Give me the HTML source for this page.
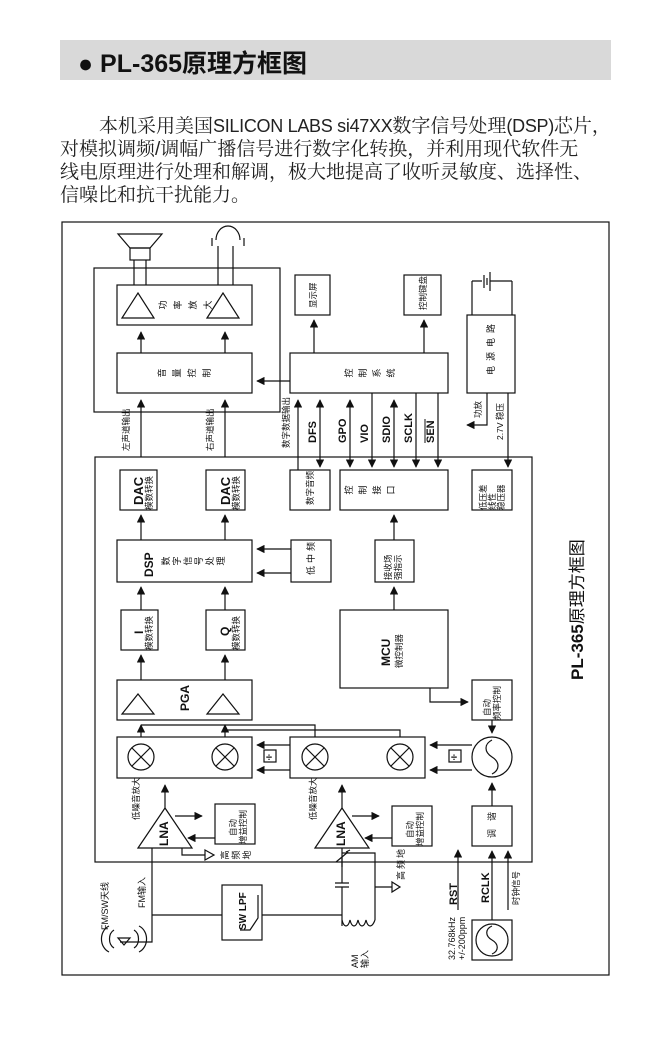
<!DOCTYPE html>
<html><head><meta charset="utf-8"><style>
body{margin:0;background:#fff;width:669px;height:1063px;overflow:hidden;font-family:"Liberation Sans","Noto Sans CJK SC",sans-serif}
.hdr{position:absolute;left:60px;top:40px;width:551px;height:40px;background:#d9d9d9}
.hdr span{position:absolute;left:18px;top:4px;font-size:25px;font-weight:bold;color:#111}
.p{position:absolute;left:60px;font-size:19px;line-height:23px;color:#222;white-space:nowrap;font-family:"Liberation Sans","Noto Serif CJK SC",serif}
.l{font-size:18px;letter-spacing:-0.3px}
svg{position:absolute;left:0;top:0}
svg text{font-family:"Liberation Sans","Noto Sans CJK SC",sans-serif;fill:#111}
.c{text-anchor:middle;dominant-baseline:central;font-size:9px}
</style></head><body>
<div class="hdr"><span>● PL-365原理方框图</span></div>
<div class="p" style="top:115px;left:99px">本机采用美国<span class="l">SILICON LABS si47XX</span>数字信号处理<span class="l">(DSP)</span>芯片，</div>
<div class="p" style="top:138px">对模拟调频/调幅广播信号进行数字化转换，并利用现代软件无</div>
<div class="p" style="top:161px">线电原理进行处理和解调，极大地提高了收听灵敏度、选择性、</div>
<div class="p" style="top:184px">信噪比和抗干扰能力。</div>
<svg width="669" height="1063" viewBox="0 0 669 1063">
<defs><marker id="a" viewBox="0 0 10 10" refX="9" refY="5" markerWidth="7" markerHeight="7" orient="auto-start-reverse"><path d="M0,0L10,5L0,10z" fill="#111"/></marker></defs>
<g fill="none" stroke="#111" stroke-width="1.2">
<rect x="62" y="222" width="547" height="753"/>
<rect x="95" y="457" width="437" height="405"/>
<rect x="94" y="268" width="186" height="144"/>
<path d="M118,234H162L150,248H130Z"/><rect x="130" y="248" width="20" height="12"/>
<path d="M134,260V285M146,260V285"/>
<path d="M216,240a12,14 0 0 1 24,0M212,238v8M244,238v8"/><path d="M218,246V285M233,246V285"/>
<rect x="117" y="285" width="135" height="40"/>
<path d="M122,318L138,293L154,318Z M207,318L223,293L239,318Z"/>
<rect x="117" y="353" width="135" height="40"/>
<path d="M141,353V332" marker-end="url(#a)"/><path d="M225,353V332" marker-end="url(#a)"/>
<rect x="290" y="353" width="158" height="40"/>
<path d="M290,381H257" marker-end="url(#a)"/>
<rect x="295" y="275" width="35" height="40"/><rect x="404" y="275" width="37" height="40"/>
<path d="M314,353V320" marker-end="url(#a)"/><path d="M424,353V320" marker-end="url(#a)"/>
<path d="M472,281H482M490,281H512M472,281V315M512,281V315M484,275V288M487,278V285M490,272V291"/>
<rect x="467" y="315" width="48" height="78"/>
<path d="M487,393V425H467" marker-end="url(#a)"/>
<path d="M508,393V467" marker-end="url(#a)"/>
<path d="M141,457V400" marker-end="url(#a)"/><path d="M225,457V400" marker-end="url(#a)"/>
<path d="M298,470V400" marker-end="url(#a)"/>
<path d="M320,400V467" marker-start="url(#a)" marker-end="url(#a)"/>
<path d="M350,400V467" marker-start="url(#a)" marker-end="url(#a)"/>
<path d="M372,393V467" marker-end="url(#a)"/>
<path d="M394,400V467" marker-start="url(#a)" marker-end="url(#a)"/>
<path d="M416,393V467" marker-end="url(#a)"/>
<path d="M438,393V467" marker-end="url(#a)"/>
<rect x="120" y="470" width="37" height="40"/><rect x="206" y="470" width="39" height="40"/>
<rect x="290" y="470" width="40" height="40"/><rect x="340" y="470" width="108" height="40"/>
<rect x="472" y="470" width="40" height="40"/>
<path d="M141,540V515" marker-end="url(#a)"/><path d="M225,540V515" marker-end="url(#a)"/>
<rect x="117" y="540" width="135" height="42"/>
<rect x="291" y="540" width="40" height="42"/>
<path d="M291,549H257" marker-end="url(#a)"/><path d="M291,573H257" marker-end="url(#a)"/>
<rect x="375" y="540" width="39" height="42"/>
<path d="M394,540V515" marker-end="url(#a)"/><path d="M394,610V587" marker-end="url(#a)"/>
<rect x="121" y="610" width="37" height="40"/><rect x="206" y="610" width="39" height="40"/>
<path d="M141,610V587" marker-end="url(#a)"/><path d="M225,610V587" marker-end="url(#a)"/>
<rect x="340" y="610" width="108" height="78"/>
<path d="M430,688V702H468" marker-end="url(#a)"/>
<rect x="472" y="680" width="40" height="40"/>
<path d="M492,720V733" marker-end="url(#a)"/>
<path d="M141,680V655" marker-end="url(#a)"/><path d="M225,680V655" marker-end="url(#a)"/>
<rect x="117" y="680" width="135" height="40"/>
<path d="M122,714L138,694L154,714Z M207,714L223,694L239,714Z"/>
<path d="M141,737V725" marker-end="url(#a)"/><path d="M225,737V725" marker-end="url(#a)"/>
<path d="M141,725H315V737M225,730H400V737"/>
<rect x="117" y="737" width="135" height="41"/>
<rect x="290" y="737" width="135" height="41"/>
<circle cx="141" cy="757" r="13"/><circle cx="225" cy="757" r="13"/>
<circle cx="315" cy="757" r="13"/><circle cx="400" cy="757" r="13"/>
<path d="M132,748l18,18M150,748l-18,18M216,748l18,18M234,748l-18,18M306,748l18,18M324,748l-18,18M391,748l18,18M409,748l-18,18"/>
<path d="M290,745H257" marker-end="url(#a)"/><path d="M290,770H257" marker-end="url(#a)"/>
<path d="M472,745H430" marker-end="url(#a)"/><path d="M472,770H430" marker-end="url(#a)"/>
<rect x="264" y="750" width="12" height="12"/><rect x="449" y="750" width="12" height="12"/>
<circle cx="492" cy="757" r="20"/>
<path d="M492,740c-8,4 -8,12 0,17s8,13 0,17"/>
<path d="M492,806V783" marker-end="url(#a)"/>
<rect x="472" y="806" width="40" height="40"/>
<path d="M138,848L165,808L192,848Z"/>
<path d="M165,808V785" marker-end="url(#a)"/>
<path d="M175,816H202" marker-end="url(#a)"/><path d="M215,838H188" marker-end="url(#a)"/>
<rect x="215" y="804" width="40" height="40"/>
<path d="M182,848V855H205M205,850L214,855L205,860Z"/>
<path d="M315,848L342,808L369,848Z"/>
<path d="M342,808V785" marker-end="url(#a)"/>
<path d="M352,816H379" marker-end="url(#a)"/><path d="M392,838H365" marker-end="url(#a)"/>
<rect x="392" y="806" width="40" height="40"/>
<path d="M152,848V942H120"/><path d="M118,938L124,945L130,938Z"/>
<path d="M114,930a8,10 0 0 0 0,18M109,926a12,14 0 0 0 0,26M134,930a8,10 0 0 1 0,18M139,926a12,14 0 0 1 0,26"/>
<path d="M152,915H222"/><rect x="222" y="885" width="40" height="55"/>
<path d="M240,930H250L258,918V895"/>
<path d="M262,915H342"/>
<path d="M342,848V883M335,883H349M335,887H349M342,887V920M342,915V926"/>
<path d="M342,853H375V920M375,887H392M392,882L400,887L392,892Z"/>
<path d="M336,862l12,-10M342,857V867M346,852l4,-2"/>
<path d="M342,920c2,8 6,8 8,0c2,8 6,8 8,0c2,8 6,8 8,0c2,8 6,8 9,0"/>
<path d="M458,910V850" marker-end="url(#a)"/>
<path d="M492,920V851" marker-end="url(#a)"/><path d="M508,910V851" marker-end="url(#a)"/>
<rect x="472" y="920" width="40" height="40"/>
<circle cx="492" cy="940" r="16"/><path d="M492,926c-7,3 -7,10 0,14s7,11 0,14"/>
</g>
<g font-size="11" font-weight="bold"><text x="266" y="761">÷</text><text x="451" y="761">÷</text></g>
<g class="c">
<text class="c" transform="translate(163,305) rotate(-90)">功</text>
<text class="c" transform="translate(178,305) rotate(-90)">率</text>
<text class="c" transform="translate(193,305) rotate(-90)">放</text>
<text class="c" transform="translate(208,305) rotate(-90)">大</text>
<text class="c" transform="translate(162,373) rotate(-90)">音</text>
<text class="c" transform="translate(177,373) rotate(-90)">量</text>
<text class="c" transform="translate(192,373) rotate(-90)">控</text>
<text class="c" transform="translate(207,373) rotate(-90)">制</text>
<text class="c" transform="translate(349,373) rotate(-90)">控</text>
<text class="c" transform="translate(363,373) rotate(-90)">制</text>
<text class="c" transform="translate(377,373) rotate(-90)">系</text>
<text class="c" transform="translate(391,373) rotate(-90)">统</text>
<text class="c" transform="translate(349,490) rotate(-90)">控</text>
<text class="c" transform="translate(363,490) rotate(-90)">制</text>
<text class="c" transform="translate(377,490) rotate(-90)">接</text>
<text class="c" transform="translate(391,490) rotate(-90)">口</text>
<text class="c" transform="translate(166,561) rotate(-90)">数</text>
<text class="c" transform="translate(177,561) rotate(-90)">字</text>
<text class="c" transform="translate(188,561) rotate(-90)">信</text>
<text class="c" transform="translate(199,561) rotate(-90)">号</text>
<text class="c" transform="translate(210,561) rotate(-90)">处</text>
<text class="c" transform="translate(221,561) rotate(-90)">理</text>
<text class="c" transform="translate(225,855) rotate(-90)">高</text>
<text class="c" transform="translate(236,855) rotate(-90)">频</text>
<text class="c" transform="translate(247,855) rotate(-90)">地</text>
</g>
<g font-size="8.5">
<text transform="translate(316,308) rotate(-90)">显示屏</text>
<text transform="translate(426,310) rotate(-90)">控制键盘</text>
<text transform="translate(494,375) rotate(-90)" letter-spacing="5" font-size="9">电源电路</text>
<text transform="translate(129,451) rotate(-90)">左声道输出</text>
<text transform="translate(213,451) rotate(-90)">右声道输出</text>
<text transform="translate(289,448) rotate(-90)">数字数据输出</text>
<text transform="translate(481,418) rotate(-90)">功放</text>
<text transform="translate(503,440) rotate(-90)">2.7V 稳压</text>
<text transform="translate(152,510) rotate(-90)">模数转换</text>
<text transform="translate(239,510) rotate(-90)">模数转换</text>
<text transform="translate(313,505) rotate(-90)">数字音频</text>
<text transform="translate(486,510) rotate(-90)">低压差</text>
<text transform="translate(495,510) rotate(-90)">线性</text>
<text transform="translate(504,510) rotate(-90)">稳压器</text>
<text transform="translate(314,575) rotate(-90)" letter-spacing="3" font-size="9">低中频</text>
<text transform="translate(391,580) rotate(-90)">接收场</text>
<text transform="translate(401,580) rotate(-90)">强指示</text>
<text transform="translate(152,650) rotate(-90)">模数转换</text>
<text transform="translate(239,650) rotate(-90)">模数转换</text>
<text transform="translate(402,668) rotate(-90)">微控制器</text>
<text transform="translate(490,716) rotate(-90)">自动</text>
<text transform="translate(500,720) rotate(-90)">频率控制</text>
<text transform="translate(139,820) rotate(-90)">低噪音放大</text>
<text transform="translate(316,820) rotate(-90)">低噪音放大</text>
<text transform="translate(236,836) rotate(-90)">自动</text>
<text transform="translate(246,844) rotate(-90)">增益控制</text>
<text transform="translate(413,838) rotate(-90)">自动</text>
<text transform="translate(423,846) rotate(-90)">增益控制</text>
<text transform="translate(495,838) rotate(-90)" letter-spacing="8" font-size="9">调谐</text>
<text transform="translate(404,880) rotate(-90)" font-size="9" letter-spacing="2">高频地</text>
<text transform="translate(145,908) rotate(-90)" font-size="9">FM输入</text>
<text transform="translate(108,930) rotate(-90)" font-size="9">FM/SW天线</text>
<text transform="translate(358,968) rotate(-90)" font-size="9">AM</text>
<text transform="translate(368,968) rotate(-90)" font-size="9">输入</text>
<text transform="translate(519,905) rotate(-90)">时钟信号</text>
<text transform="translate(455,960) rotate(-90)" font-size="9">32.768kHz</text>
<text transform="translate(465,960) rotate(-90)" font-size="9">+/-200ppm</text>
</g>
<g font-weight="bold" font-size="11">
<text transform="translate(316,443) rotate(-90)">DFS</text>
<text transform="translate(346,443) rotate(-90)">GPO</text>
<text transform="translate(368,443) rotate(-90)">VIO</text>
<text transform="translate(390,443) rotate(-90)">SDIO</text>
<text transform="translate(412,443) rotate(-90)">SCLK</text>
<text transform="translate(434,443) rotate(-90)">SEN</text>
<path d="M425,419V443" stroke="#111" stroke-width="1"/>
<text transform="translate(143,505) rotate(-90)" font-size="13">DAC</text>
<text transform="translate(230,505) rotate(-90)" font-size="13">DAC</text>
<text transform="translate(153,577) rotate(-90)" font-size="12">DSP</text>
<text transform="translate(143,634) rotate(-90)" font-size="12">I</text>
<text transform="translate(229,636) rotate(-90)" font-size="12">Q</text>
<text transform="translate(390,666) rotate(-90)" font-size="12">MCU</text>
<text transform="translate(189,711) rotate(-90)" font-size="12">PGA</text>
<text transform="translate(168,846) rotate(-90)" font-size="12">LNA</text>
<text transform="translate(345,846) rotate(-90)" font-size="12">LNA</text>
<text transform="translate(246,930) rotate(-90)" font-size="10">SW LPF</text>
<text transform="translate(457,905) rotate(-90)" font-size="11">RST</text>
<text transform="translate(489,903) rotate(-90)" font-size="11">RCLK</text>
<text transform="translate(583,680) rotate(-90)" font-size="17">PL-365<tspan font-weight="normal">原理方框图</tspan></text>
</g>
</svg>
</body></html>
